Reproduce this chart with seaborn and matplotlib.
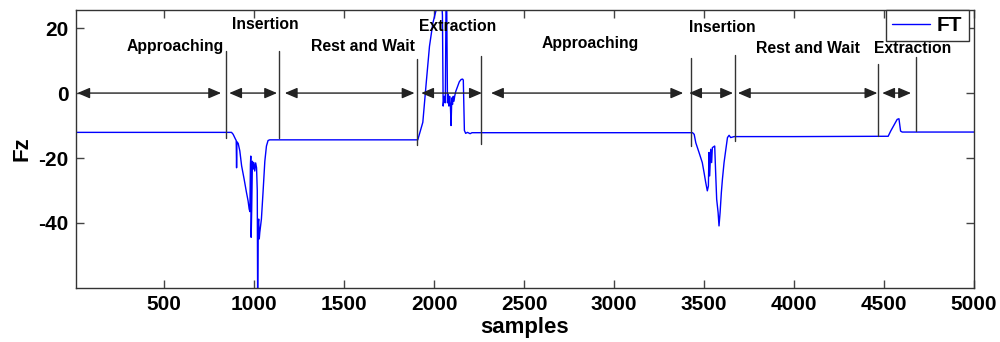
import matplotlib
matplotlib.use("Agg")
import matplotlib.pyplot as plt
import seaborn as sns
import pandas as pd

# Fz force trace (sample index, force) through the two insertion cycles
samples = [
    1, 874, 883, 896, 900, 902, 904, 911, 920, 930, 944, 957, 966, 972, 976,
    979, 981, 983, 986, 990, 994, 998, 1003, 1008, 1013, 1017, 1019, 1022,
    1025, 1028, 1031, 1040, 1049, 1059, 1068, 1077, 1086, 1500, 1909,
    1937, 1956, 1974, 1993, 2012, 2030, 2040, 2046, 2050, 2056, 2062, 2066,
    2070, 2074, 2078, 2082, 2086, 2090, 2094, 2098, 2102, 2106, 2110, 2114,
    2120, 2130, 2140, 2150, 2158, 2162, 2168, 2175, 2185, 2200, 2210, 3436,
    3445, 3454, 3472, 3490, 3500, 3509, 3518, 3524, 3527, 3531, 3537, 3542,
    3546, 3559, 3565, 3570, 3578, 3583, 3589, 3596, 3602, 3611, 3621, 3630,
    3639, 3648, 3667, 4000, 4509, 4523, 4537, 4555, 4573, 4583, 4592, 4601,
    5000,
]
fz = [
    -12.1, -12.1, -12.7, -14.2, -14.6, -23.0, -15.0, -15.5, -17.8, -22.4,
    -26.5, -30.6, -33.2, -35.7, -36.5, -22.0, -19.4, -44.4, -36.0, -21.0,
    -23.4, -21.4, -24.0, -21.5, -23.0, -30.0, -62.0, -40.0, -38.8, -44.9,
    -42.9, -38.8, -30.6, -21.0, -16.3, -14.6, -14.4, -14.4, -14.4,
    -9.0, 3.2, 14.4, 21.6, 25.8, 29.0, 30.0, 24.0, -4.0, -1.0, -3.0, 28.0,
    26.0, -3.0, -0.5, -4.0, -1.0, -3.5, -10.0, -1.5, -3.5, -1.0, -2.5, -1.0,
    0.5, 2.0, 3.5, 4.2, 4.3, 4.0, -11.5, -12.4, -12.1, -12.5, -12.2, -12.2,
    -12.7, -15.3, -18.3, -21.4, -24.5, -27.5, -30.1, -28.6, -18.3, -25.5,
    -17.3, -21.4, -16.8, -16.3, -25.5, -32.7, -36.8, -40.9, -36.8, -30.6,
    -26.5, -21.4, -17.3, -13.7, -13.0, -13.7, -13.4, -13.4, -13.3, -13.3,
    -11.7, -9.9, -8.1, -7.9, -11.7, -12.0, -12.0,
]

# Phase boundaries: sample position and extent of each marker line
boundary_x = [842, 1136, 1906, 2261, 3430, 3672, 4468, 4675]
boundary_lo = [-13.7, -13.7, -16.0, -15.7, -16.2, -14.7, -13.1, -11.6]
boundary_hi = [12.9, 12.9, 10.5, 11.3, 10.7, 11.7, 8.9, 11.0]

# Double-headed span arrows drawn at Fz = 0
span_start = [17, 861, 1170, 1928, 2316, 3417, 3688, 4490]
span_end = [816, 1127, 1891, 2265, 3384, 3661, 4463, 4650]

# Phase names and their anchor positions
phase_names = ["Approaching", "Insertion", "Rest and Wait", "Extraction",
               "Approaching", "Insertion", "Rest and Wait", "Extraction"]
phase_x = [559, 1062, 1603, 2128, 2868, 3599, 4076, 4660]
phase_y = [14.4, 21.0, 14.2, 20.4, 15.2, 20.3, 13.6, 13.7]

x_ticks = [500, 1000, 1500, 2000, 2500, 3000, 3500, 4000, 4500, 5000]
y_ticks = [-40, -20, 0, 20]

sns.set_style("ticks")
plt.rcParams["font.family"] = ["Liberation Sans", "DejaVu Sans"]
plt.rcParams["font.weight"] = "bold"
plt.rcParams["axes.unicode_minus"] = False
plt.rcParams["text.color"] = "black"
plt.rcParams["axes.labelcolor"] = "black"
plt.rcParams["xtick.labelcolor"] = "black"
plt.rcParams["ytick.labelcolor"] = "black"

fig = plt.figure(figsize=(10, 3.42), dpi=100)
ax = fig.add_axes([0.0757, 0.158, 0.8983, 0.813])

df = pd.DataFrame({"samples": samples, "Fz": fz})
sns.lineplot(data=df, x="samples", y="Fz", ax=ax, estimator=None, sort=False,
             color="#0000ff", lw=1.0, label="FT")

for bx, lo, hi in zip(boundary_x, boundary_lo, boundary_hi):
    ax.plot([bx, bx], [lo, hi], color="#333333", lw=1.0)

for x0, x1 in zip(span_start, span_end):
    ax.annotate("", xy=(x1, 0), xytext=(x0, 0),
                arrowprops=dict(arrowstyle="<|-|>,head_length=0.75,head_width=0.32",
                                color="#222222", lw=1.0, shrinkA=0, shrinkB=0))

for name, tx, ty in zip(phase_names, phase_x, phase_y):
    ax.text(tx, ty, name, ha="center", va="center", fontsize=11.3,
            fontweight="bold", color="black")

ax.set_xlim(8, 4995)
ax.set_ylim(-60, 25.6)
ax.set_xticks(x_ticks)
ax.set_yticks(y_ticks)
ax.tick_params(direction="in", top=True, right=True, length=6, width=1,
               color="#444444", labelsize=15, pad=5, labelcolor="black")
for lab in ax.get_xticklabels() + ax.get_yticklabels():
    lab.set_fontweight("bold")
for sp in ax.spines.values():
    sp.set_visible(True)
    sp.set_color("#333333")
    sp.set_linewidth(1.0)

ax.set_xlabel("samples", fontsize=16, fontweight="bold", labelpad=2,
              color="black")
ax.set_ylabel("Fz", fontsize=16, fontweight="bold", labelpad=4, color="black")

leg = ax.legend(loc="upper right", bbox_to_anchor=(0.994, 1.0),
                borderaxespad=0, fancybox=False, framealpha=1,
                edgecolor="#333333", handlelength=1.8, handletextpad=0.35,
                borderpad=0.3, prop={"size": 15, "weight": "bold"})
leg.get_frame().set_linewidth(1.0)
for t in leg.get_texts():
    t.set_color("black")

fig.savefig("out.png", dpi=100)
